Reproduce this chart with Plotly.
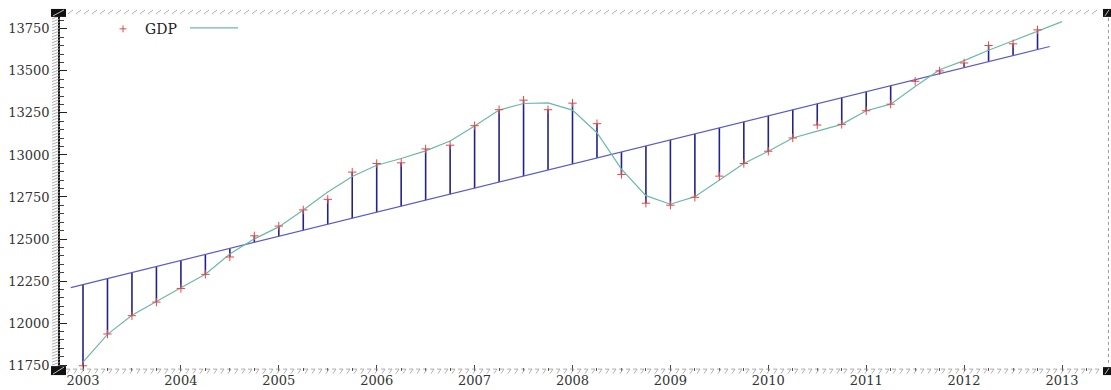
import numpy as np
import plotly.graph_objects as go

# ---------------- data ----------------
quarters = [
    "2003Q1", "2003Q2", "2003Q3", "2003Q4", "2004Q1", "2004Q2", "2004Q3", "2004Q4",
    "2005Q1", "2005Q2", "2005Q3", "2005Q4", "2006Q1", "2006Q2", "2006Q3", "2006Q4",
    "2007Q1", "2007Q2", "2007Q3", "2007Q4", "2008Q1", "2008Q2", "2008Q3", "2008Q4",
    "2009Q1", "2009Q2", "2009Q3", "2009Q4", "2010Q1", "2010Q2", "2010Q3", "2010Q4",
    "2011Q1", "2011Q2", "2011Q3", "2011Q4", "2012Q1", "2012Q2", "2012Q3", "2012Q4",
]
gdp = [
    11746, 11935, 12044, 12125, 12206, 12290, 12393, 12519,
    12577, 12673, 12736, 12898, 12949, 12953, 13036, 13058,
    13174, 13269, 13326, 13269, 13308, 13186, 12884, 12713,
    12701, 12748, 12874, 12949, 13022, 13101, 13178, 13182,
    13263, 13302, 13438, 13500, 13547, 13651, 13661, 13744,
]
smooth_quarters = quarters + ["2013Q1"]
gdp_smooth = [
    11768, 11933, 12046, 12130, 12210, 12290, 12411, 12501,
    12572, 12673, 12780, 12872, 12939, 12979, 13024, 13083,
    13172, 13267, 13306, 13310, 13267, 13132, 12916, 12758,
    12707, 12752, 12851, 12949, 13022, 13101, 13142, 13182,
    13263, 13302, 13407, 13507, 13561, 13623, 13679, 13736,
    13793,
]
year_ticks = [2003, 2004, 2005, 2006, 2007, 2008, 2009, 2010, 2011, 2012, 2013]
y_ticks = [11750, 12000, 12250, 12500, 12750, 13000, 13250, 13500, 13750]
legend_label = "GDP"


def qpos(q):
    return int(q[:4]) + (int(q[5]) - 1) / 4.0


x = [qpos(q) for q in quarters]
xs = [qpos(q) for q in smooth_quarters]
slope, intercept = np.polyfit(x, gdp, 1)
trend = [slope * xi + intercept for xi in x]
half_q = 0.125
trend_x = [x[0] - half_q, x[-1] + half_q]
trend_y = [slope * v + intercept for v in trend_x]

# ---------------- styles ----------------
W, H = 1111, 390
PL, PR, PT, PB = 60, 1107, 12, 373  # plot area in px
STEM = "#22228a"
TREND = "#5b5bc8"
CYAN = "#6cb8a8"
RED = "#e04848"
HATCH = "#9a9a9a"
FONT = dict(family="DejaVu Serif", size=13, color="#333333")

fig = go.Figure()

# residual stems
sx, sy = [], []
for xi, g, t in zip(x, gdp, trend):
    sx += [xi, xi, None]
    sy += [g, t, None]
fig.add_trace(go.Scatter(x=sx, y=sy, mode="lines", line=dict(color=STEM, width=1.6),
                         hoverinfo="skip", showlegend=False))
# trend
fig.add_trace(go.Scatter(x=trend_x, y=trend_y, mode="lines", line=dict(color=TREND, width=1.2),
                         showlegend=False))
# smoothed line
fig.add_trace(go.Scatter(x=xs, y=gdp_smooth, mode="lines", line=dict(color=CYAN, width=1.2),
                         showlegend=False))
# GDP points
fig.add_trace(go.Scatter(x=x, y=gdp, mode="markers", name=legend_label,
                         marker=dict(symbol="cross-thin", size=6, line=dict(color=RED, width=1)),
                         showlegend=False))

# ---------------- decorations in pixel space (x2/y2) ----------------
hx, hy = [], []
# left hatched band
for py in range(13, 372, 3):
    hx += [52, 60, None]
    hy += [py + 3, py, None]
# bottom hatched band
for px in range(66, 1102, 7):
    hx += [px, px + 4, px + 1, None]
    hy += [371, 371, 375.5, None]
# top dashed band
for px in range(68, 1100, 8):
    hx += [px, px + 5, None]
    hy += [14, 10, None]
fig.add_trace(go.Scatter(x=hx, y=hy, xaxis="x2", yaxis="y2", mode="lines",
                         line=dict(color=HATCH, width=0.8), hoverinfo="skip", showlegend=False))
# right dotted border
fig.add_trace(go.Scatter(x=[1108.5, 1108.5], y=[18, 368], xaxis="x2", yaxis="y2", mode="lines",
                         line=dict(color=HATCH, width=1, dash="dot"), hoverinfo="skip",
                         showlegend=False))
# legend sample
fig.add_trace(go.Scatter(x=[123], y=[29], xaxis="x2", yaxis="y2", mode="markers",
                         marker=dict(symbol="cross-thin", size=5, line=dict(color=RED, width=1)),
                         hoverinfo="skip", showlegend=False))
fig.add_trace(go.Scatter(x=[190, 238], y=[28, 28], xaxis="x2", yaxis="y2", mode="lines",
                         line=dict(color=CYAN, width=1.2), hoverinfo="skip", showlegend=False))

shapes = []
for (x0, y0, x1, y1) in [(51, 9, 66, 17), (51, 368, 66, 377), (1103, 369, 1111, 377), (1103, 9, 1111, 17)]:
    shapes.append(dict(type="rect", xref="x2", yref="y2", x0=x0, y0=y0, x1=x1, y1=y1,
                       fillcolor="#111111", line=dict(width=0)))
    shapes.append(dict(type="line", xref="x2", yref="y2", x0=x0 + 2, y0=y1 - 1, x1=x1 - 2, y1=y0 + 1,
                       line=dict(color="#bbbbbb", width=1)))

annotations = [dict(xref="x2", yref="y2", x=143, y=29, text=legend_label, showarrow=False,
                    xanchor="left", yanchor="middle",
                    font=dict(family="DejaVu Serif", size=14, color="#222222"))]

xr = [2003 - (83 - PL) / 97.9, 2013 + (PR - 1062) / 97.9]
yr = [11750 - (PB - 367) / 0.169, 13750 + (29 - PT) / 0.169]

fig.update_layout(
    width=W, height=H,
    margin=dict(l=0, r=0, t=0, b=0),
    paper_bgcolor="white", plot_bgcolor="rgba(0,0,0,0)",
    shapes=shapes, annotations=annotations,
    xaxis=dict(domain=[PL / W, PR / W], range=xr, tickmode="array", tickvals=year_ticks,
               ticktext=[str(v) for v in year_ticks], ticks="inside", ticklen=6, tickwidth=1,
               tickcolor="#444444", showline=False, showgrid=False, zeroline=False,
               tickfont=FONT, anchor="y",
               minor=dict(dtick=0.25, tick0=2003, ticks="inside", ticklen=3, tickcolor="#555555",
                          showgrid=False)),
    yaxis=dict(domain=[1 - PB / H, 1 - PT / H], range=yr, tickmode="array", tickvals=y_ticks,
               ticktext=[str(v) for v in y_ticks], ticks="inside", ticklen=7, tickwidth=1,
               tickcolor="#222222", showline=True, linecolor="#111111", linewidth=1.5,
               showgrid=False, zeroline=False, tickfont=FONT, anchor="x", ticklabelstandoff=6,
               minor=dict(dtick=50, tick0=11750, ticks="inside", ticklen=4, tickcolor="#444444",
                          showgrid=False)),
    xaxis2=dict(domain=[0, 1], range=[0, W], visible=False, fixedrange=True, anchor="y2"),
    yaxis2=dict(domain=[0, 1], range=[H, 0], visible=False, fixedrange=True, anchor="x2"),
    showlegend=False,
)

fig.write_html("out.html", config=dict(displayModeBar=False),
               post_script="document.body.style.margin='0';document.body.style.overflow='hidden';")
